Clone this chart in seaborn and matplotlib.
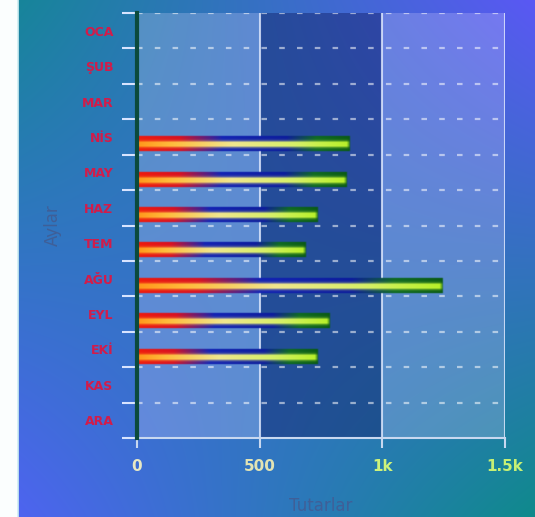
import numpy as np
import pandas as pd
import matplotlib
matplotlib.use("Agg")
import matplotlib.pyplot as plt
from matplotlib.colors import to_rgb
from matplotlib.lines import Line2D
import seaborn as sns

# ---- data -------------------------------------------------------------
months = ["OCA", "ŞUB", "MAR", "NİS", "MAY", "HAZ",
          "TEM", "AĞU", "EYL", "EKİ", "KAS", "ARA"]
totals = [0, 0, 0, 870, 860, 740, 690, 1250, 790, 740, 0, 0]
x_ticks = [0, 500, 1000, 1500]
x_tick_labels = ["0", "500", "1k", "1.5k"]
x_tick_colors = ["#e8e8c4", "#e2e4b4", "#cdf27a", "#c6f074"]

sns.set_theme(style="white")
plt.rcParams["font.family"] = ["DejaVu Sans"]

W, H, DPI = 535, 517, 100
fig = plt.figure(figsize=(W / DPI, H / DPI), dpi=DPI, facecolor="#fbfefe")

# ---- gradient backdrop ---------------------------------------------------
bg = fig.add_axes([18 / W, 0, 1 - 18 / W, 1], zorder=-5)
tl, tr = np.array(to_rgb("#17859a")), np.array(to_rgb("#5a58f4"))
bl, br = np.array(to_rgb("#4e64f0")), np.array(to_rgb("#0f8a8c"))
u = np.linspace(0, 1, 256)[None, :, None]
v = np.linspace(0, 1, 256)[:, None, None]
grad = tl * (1 - u) * (1 - v) + tr * u * (1 - v) + bl * (1 - u) * v + br * u * v
bg.imshow(grad, aspect="auto", extent=(0, 1, 1, 0), interpolation="bilinear")
bg.set_xlim(0, 1)
bg.set_ylim(1, 0)
bg.axis("off")
fig.add_artist(Line2D([17.5 / W, 17.5 / W], [0, 1], color="#cfeef2", lw=1.2))

# ---- main axes -----------------------------------------------------------
ax = fig.add_axes([137 / W, 1 - 438 / H, (505 - 137) / W, (438 - 13) / H])
ax.patch.set_alpha(0)

df = pd.DataFrame({"Ay": months, "Tutar": totals})
sns.barplot(data=df, x="Tutar", y="Ay", orient="h", width=0.46,
            color="#c01010", ax=ax)
bar_patches = list(ax.patches)
ax.set_xlim(0, 1500)
ax.set_ylim(11.5, -0.5)

# column bands
ax.axvspan(0, 500, color="#dcd8ff", alpha=0.25, lw=0, zorder=0)
ax.axvspan(500, 1000, color="#101a60", alpha=0.42, lw=0, zorder=0)
ax.axvspan(1000, 1500, color="#d8d0ff", alpha=0.25, lw=0, zorder=0)

# grid
for xv in (500, 1000, 1500):
    ax.axvline(xv, color="#e2ebff", lw=1.5, alpha=0.8, zorder=1)
bounds = np.arange(-0.5, 11.0, 1.0)
ax.hlines(bounds, 0, 1500, colors="white", alpha=0.55, lw=1.6,
          linestyles=(0, (2.5, 5.5)), zorder=1)


def ramp(stops, t):
    pos = [s[0] for s in stops]
    cols = np.array([to_rgb(s[1]) for s in stops])
    return np.stack([np.interp(t, pos, cols[:, i]) for i in range(3)], axis=-1)


outer_stops = [(0.0, "#f01a0c"), (0.20, "#d81022"), (0.40, "#1222b4"),
               (0.70, "#0c1c9c"), (0.84, "#0e6a22"), (1.0, "#0a5a14")]
core_stops = [(0.0, "#ff961a"), (0.16, "#ffbc3c"), (0.45, "#f0e68e"),
              (0.75, "#d6f066"), (1.0, "#b6f026")]

fig.canvas.draw()
px_per_unit = ax.transData.transform((1, 0))[0] - ax.transData.transform((0, 0))[0]

# gradient bars laid over the seaborn bar geometry
for p in bar_patches:
    x0, w = p.get_x(), p.get_width()
    y0, h = p.get_y(), p.get_height()
    p.set_visible(False)
    if not w or w <= 0:
        continue
    bar_px = w * px_per_unit
    ncol, nrow = 500, 30
    t = np.linspace(0, 1, ncol)
    yy = np.linspace(0, 1, nrow)
    outer = ramp(outer_stops, t)
    core = ramp(core_stops, t)
    cw = np.clip(1.6 * np.exp(-((yy - 0.54) / 0.17) ** 2), 0, 1)
    end = np.clip((1 - t) * bar_px / 4.0, 0, 1)
    cw2 = cw[:, None] * end[None, :]
    rgb = outer[None, :, :] * (1 - cw2[..., None]) + core[None, :, :] * cw2[..., None]
    a_v = np.clip((0.5 - np.abs(yy - 0.5)) / 0.07, 0, 1)
    a_h = np.clip((1 - t) * bar_px / 1.5, 0, 1)
    alpha = a_v[:, None] * a_h[None, :]
    img = np.dstack([rgb, alpha])
    shift = 0.2
    ax.imshow(img, extent=(x0, x0 + w, y0 + h + shift, y0 + shift),
              aspect="auto", interpolation="bilinear", zorder=3)

ax.set_xlim(0, 1500)
ax.set_ylim(11.5, -0.5)

# spines
for s in ("top", "right"):
    ax.spines[s].set_visible(False)
ax.spines["left"].set_color("#0b4a3c")
ax.spines["left"].set_linewidth(3)
ax.spines["left"].set_zorder(6)
ax.spines["bottom"].set_color("#c8d8f0")
ax.spines["bottom"].set_linewidth(1.5)

# ticks
ax.set_yticks(range(len(months)))
ax.set_yticklabels(months)
ax.set_yticks(np.arange(-0.5, 12.0, 1.0), minor=True)
ax.tick_params(axis="y", which="major", length=0, pad=17,
               labelsize=9, labelcolor="#d21c4a")
ax.tick_params(axis="y", which="minor", length=11, width=1.5,
               color="#d8e4ff", left=True)
for lab in ax.get_yticklabels():
    lab.set_fontweight("bold")
ax.set_xticks(x_ticks)
ax.set_xticklabels(x_tick_labels)
ax.tick_params(axis="x", which="major", length=7, width=1.5,
               color="#c8d8f0", pad=8, labelsize=11, bottom=True)
for lab, c in zip(ax.get_xticklabels(), x_tick_colors):
    lab.set_color(c)
    lab.set_fontweight("bold")

ax.set_ylabel("Aylar", color="#3f5f98", fontsize=12)
ax.set_xlabel("Tutarlar", color="#3f5f98", fontsize=12)
ax.yaxis.set_label_coords(-0.204, 0.5)
ax.xaxis.set_label_coords(0.5, -0.139)

fig.savefig("out.png", dpi=DPI, facecolor=fig.get_facecolor())
